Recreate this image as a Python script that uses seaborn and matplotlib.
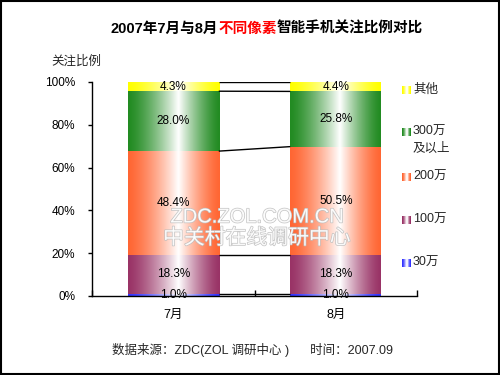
import numpy as np
import pandas as pd
import matplotlib
matplotlib.use("Agg")
import matplotlib.pyplot as plt
import seaborn as sns
from matplotlib.patches import Rectangle
from matplotlib.colors import to_rgb
import matplotlib.patheffects as pe

# ---------------- data ----------------
months = ["7月", "8月"]
series_names = ["30万", "100万", "200万", "300万\n及以上", "其他"]
v_30 = [1.0, 1.0]
v_100 = [18.3, 18.3]
v_200 = [48.4, 50.5]
v_300 = [28.0, 25.8]
v_other = [4.3, 4.4]
yticks = [0, 20, 40, 60, 80, 100]
ytick_labels = ["0%", "20%", "40%", "60%", "80%", "100%"]
title_parts = ["2007年7月与8月", "不同像素", "智能手机关注比例对比"]
ylabel_text = "关注比例"
source_text = "数据来源：ZDC(ZOL 调研中心 )      时间：2007.09"
watermark1 = "ZDC.ZOL.COM.CN"
watermark2 = "中关村在线调研中心"

colors = ["#3333FF", "#993366", "#FF6633", "#228B22", "#FFFF00"]

sns.set_theme(style="white")
plt.rcParams['font.family'] = ['Liberation Sans', 'Noto Sans CJK SC']
plt.rcParams['axes.unicode_minus'] = False

W, H = 500, 375
fig = plt.figure(figsize=(5, 3.75), dpi=100)
fig.patch.set_facecolor("white")
ax = fig.add_axes([92 / W, 1 - 296 / H, 325 / W, 214 / H])
ax.set_facecolor("white")


def grad_img(col, n=200):
    c = np.array(to_rgb(col))
    t = np.linspace(0, 1, n)
    peak = 0.55
    w = np.where(t < peak, t / peak, (1 - t) / (1 - peak))
    w = np.clip(w, 0, 1) ** 1.4
    img = c[None, :] * (1 - w[:, None]) + w[:, None]
    return img[None, :, :]


values = [v_30, v_100, v_200, v_300, v_other]
bottom = np.zeros(len(months))
seg_patches = []
for vals, col in zip(values, colors):
    df = pd.DataFrame({"month": months, "value": vals})
    n_before = len(ax.patches)
    sns.barplot(data=df, x="month", y="value", color=col, width=0.56,
                bottom=bottom.copy(), errorbar=None, ax=ax, saturation=1,
                edgecolor="none", linewidth=0)
    seg_patches.append(list(ax.patches[n_before:]))
    bottom = bottom + np.array(vals)

# gradient fills clipped to the bars
for pats, col in zip(seg_patches, colors):
    img = grad_img(col)
    for p in pats:
        x0, y0, w, h = p.get_x(), p.get_y(), p.get_width(), p.get_height()
        im = ax.imshow(img, extent=[x0, x0 + w, y0, y0 + h], aspect='auto',
                       interpolation='bilinear', zorder=p.get_zorder() + 0.1)
        im.set_clip_path(p)

# value labels
for pats, vals in zip(seg_patches, values):
    for p, v in zip(pats, vals):
        ax.text(p.get_x() + p.get_width() / 2, p.get_y() + p.get_height() / 2,
                f"{v:.1f}%", ha='center', va='center', fontsize=8.5,
                color='black', zorder=6)

# series lines between bars
for pats in seg_patches:
    p1, p2 = pats[0], pats[1]
    ax.plot([p1.get_x() + p1.get_width(), p2.get_x()],
            [p1.get_y() + p1.get_height(), p2.get_y() + p2.get_height()],
            color='black', lw=1, zorder=5, solid_capstyle='butt')

ax.set_xlim(-0.5, len(months) - 0.5)
ax.set_ylim(0, 100)
ax.set_xlabel("")
ax.set_ylabel("")
ax.set_yticks(yticks)
ax.set_yticklabels(ytick_labels)
ax.tick_params(axis='y', which='major', left=True, direction='out', length=3,
               width=1, color='black', pad=9, labelsize=8.5, labelcolor='black')
ax.set_xticks(range(len(months)))
ax.set_xticklabels(months)
ax.tick_params(axis='x', which='major', bottom=True, length=0, pad=9,
               labelsize=9, labelcolor='black')
ax.set_xticks([-0.5 + i for i in range(len(months) + 1)], minor=True)
ax.tick_params(axis='x', which='minor', bottom=True, direction='in', length=4,
               width=1, color='black')
for s in ['top', 'right']:
    ax.spines[s].set_visible(False)
for s in ['left', 'bottom']:
    ax.spines[s].set_color('black')
    ax.spines[s].set_linewidth(1)
ax.grid(False)

# watermark (behind the value labels)
for txt, yc, fs in [(watermark1, 217, 14.5), (watermark2, 238, 15)]:
    ax.text(257 / W, 1 - yc / H, txt, transform=fig.transFigure,
            ha='center', va='center', fontsize=fs, color='white', zorder=5.5,
            clip_on=False, alpha=0.9,
            path_effects=[pe.withStroke(linewidth=1.0, foreground='#BDBDBD')])

# title (multi-coloured, parts placed edge to edge)
renderer = fig.canvas.get_renderer()
title_colors = ['black', '#FF0000', 'black']
ty = 1 - 29 / H
tkw = dict(fontsize=10.5, fontweight='bold', ha='left', va='center')


def text_w(s):
    t = fig.text(0, 0, s, **tkw)
    wd = t.get_window_extent(renderer).width
    t.remove()
    return wd


full = "".join(title_parts)
total = text_w(full)
start = 267 - total / 2
prefix = ""
for part, c in zip(title_parts, title_colors):
    if prefix:
        # advance = width(prefix + part) - width(part)  (cancels padding)
        off = text_w(prefix + part) - text_w(part)
    else:
        off = 0
    fig.text((start + off) / W, ty, part, color=c, **tkw)
    prefix += part

# y-axis title
fig.text(76 / W, 1 - 62 / H, ylabel_text, ha='center', va='center', fontsize=9)

# legend (custom, top to bottom)
leg_y = [90, 132, 177, 220, 263]
for name, col, yc in zip(series_names[::-1], colors[::-1], leg_y):
    lax = fig.add_axes([402 / W, 1 - (yc + 4) / H, 8 / W, 8 / H])
    lax.imshow(grad_img(col, 8), aspect='auto', interpolation='nearest')
    lax.set_axis_off()
    for k, line in enumerate(name.split("\n")):
        fig.text(413 / W, 1 - (yc + 17 * k) / H, line, ha='left', va='center',
                 fontsize=9)

# source
fig.text(253 / W, 1 - 350 / H, source_text, ha='center', va='center', fontsize=9)

# border
fig.add_artist(Rectangle((0.001, 0.002), 0.996, 0.996, transform=fig.transFigure,
                         fill=False, edgecolor='black', lw=1.5))

fig.savefig("out.png", dpi=100, facecolor='white')
